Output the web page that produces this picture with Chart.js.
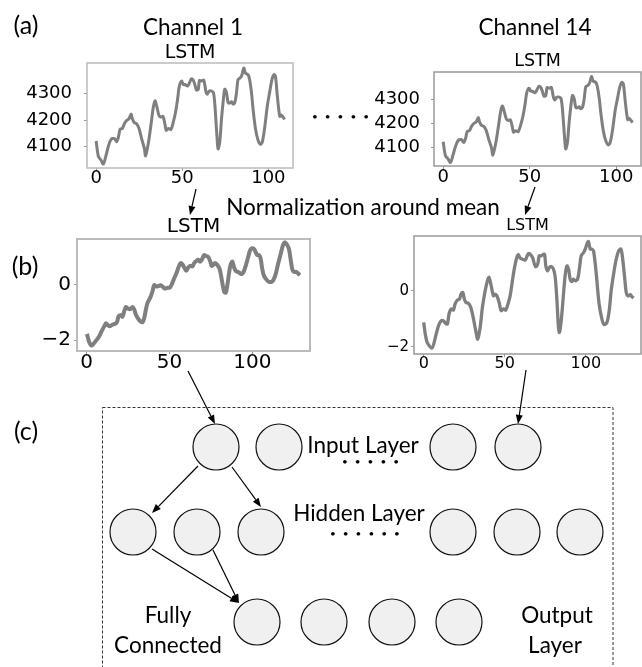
<!DOCTYPE html>
<html>
<head>
<meta charset="utf-8">
<script src="https://cdn.jsdelivr.net/npm/chart.js@4/dist/chart.umd.min.js"></script>
<style>
  html, body { margin: 0; padding: 0; background: #fff; }
  body { width: 642px; height: 667px; position: relative; overflow: hidden; }
  canvas { position: absolute; }
  .lbl { position: absolute; font-family: Lato, sans-serif; font-size: 22.5px; color: #000; white-space: nowrap; line-height: 1; transform: translate(-50%, -50%); }
  .tag { font-size: 25px; }
  .dots { position: absolute; font-family: Lato, sans-serif; font-size: 10px; letter-spacing: 7px; line-height: 1; transform: translateY(-50%); }
</style>
</head>
<body>
<canvas id="rawLeft" width="296" height="148" style="left:0;top:42px"></canvas>
<canvas id="rawRight" width="272" height="136" style="left:370px;top:52px"></canvas>
<canvas id="normLeft" width="312" height="158" style="left:0;top:217px"></canvas>
<canvas id="normRight" width="262" height="157" style="left:380px;top:218px"></canvas>
<canvas id="network" width="642" height="667" style="left:0;top:0"></canvas>

<div class="lbl tag" style="left:26px;top:24px">(a)</div>
<div class="lbl" style="left:193px;top:27px">Channel 1</div>
<div class="lbl" style="left:535px;top:27px">Channel 14</div>
<div class="dots" style="left:312px;top:116px">•••••</div>
<div class="lbl" style="left:363px;top:207px">Normalization around mean</div>
<div class="lbl tag" style="left:25px;top:265px">(b)</div>
<div class="lbl tag" style="left:26px;top:430px">(c)</div>
<div class="lbl" style="left:363px;top:445px">Input Layer</div>
<div class="dots" style="left:342px;top:461px">•••••</div>
<div class="lbl" style="left:359px;top:513px">Hidden Layer</div>
<div class="dots" style="left:330px;top:533px">••••••</div>
<div class="lbl" style="left:168px;top:615px">Fully</div>
<div class="lbl" style="left:168px;top:645px">Connected</div>
<div class="lbl" style="left:557px;top:615px">Output</div>
<div class="lbl" style="left:555px;top:645px">Layer</div>

<script>
// raw LSTM input, channel 1 / channel 14 (same trace)
const rawSteps = [0, 1.3, 2.7, 4.2, 5.6, 7.2, 8.7, 10.6, 11.9, 13.0, 13.9, 15.2, 16.4, 17.7, 19.1, 20.3, 21.0, 22.2, 23.5, 24.9,
  26.4, 28.0, 28.7, 30.3, 31.8, 33.2, 34.2, 35.1, 36.5, 37.6, 38.8, 39.9, 40.7, 41.9, 43.4, 44.8, 46.1, 47.3, 48.3, 49.6,
  50.6, 51.5, 53.1, 54.4, 55.3, 56.4, 57.3, 58.3, 59.3, 60.0, 61.2, 62.5, 63.7, 64.5, 65.6, 67.0, 68.1, 68.9, 70.1, 70.8,
  71.8, 72.8, 73.9, 74.7, 75.7, 76.6, 77.6, 78.6, 79.5, 80.5, 81.5, 82.4, 83.7, 84.7, 85.7, 86.7, 88.2, 89.1, 90.2, 91.1,
  92.5, 94.0, 95.4, 96.5, 97.8, 99.4, 100.7, 102.1, 103.2, 104.1, 105.2, 106.6, 107.5, 108.5, 109.5];
const rawValues = [4122, 4064, 4051, 4035, 4064, 4104, 4128, 4131, 4119, 4138, 4166, 4169, 4187, 4199, 4206, 4224, 4206, 4191, 4187, 4169,
  4131, 4094, 4066, 4113, 4181, 4249, 4273, 4255, 4218, 4212, 4215, 4187, 4162, 4169, 4165, 4193, 4230, 4280, 4329, 4348,
  4335, 4335, 4329, 4344, 4356, 4351, 4335, 4314, 4317, 4350, 4348, 4351, 4310, 4298, 4310, 4310, 4304, 4261, 4144, 4092,
  4119, 4206, 4280, 4317, 4304, 4267, 4265, 4270, 4261, 4267, 4304, 4354, 4360, 4372, 4397, 4378, 4372, 4354, 4304, 4243,
  4169, 4125, 4109, 4119, 4169, 4255, 4304, 4354, 4372, 4366, 4292, 4215, 4220, 4212, 4203];

// normalized, channel 1
const normLeftSteps = [0.2, 1.6, 3.0, 4.6, 6.2, 7.7, 9.1, 10.7, 11.7, 13.1, 14.3, 15.7, 17.1, 18.3, 19.3, 20.7, 21.7, 22.7, 23.7, 25.1,
  26.3, 27.7, 28.7, 29.7, 31.1, 32.3, 33.8, 34.8, 35.8, 36.8, 38.4, 39.8, 40.8, 42.2, 43.4, 44.8, 45.8, 47.2, 48.8, 50.2,
  51.4, 52.8, 54.4, 55.8, 56.8, 57.8, 58.9, 60.1, 61.3, 62.5, 63.9, 64.9, 66.3, 67.3, 68.5, 69.9, 70.9, 71.9, 73.3, 74.5,
  75.5, 76.5, 77.5, 78.9, 80.3, 81.5, 83.0, 84.0, 85.0, 86.0, 87.0, 88.0, 89.0, 90.0, 91.4, 92.6, 93.6, 94.6, 96.0, 97.4,
  98.6, 99.6, 101.0, 102.0, 103.0, 104.0, 105.0, 106.0, 107.0, 108.7, 110.1, 111.5, 112.7, 114.1, 115.5, 117.1, 118.5, 119.5, 120.7, 122.1,
  123.1, 124.1, 125.1, 126.5, 127.5, 128.7];
const normLeftValues = [-1.77, -2.07, -2.19, -2.10, -1.98, -1.85, -1.67, -1.49, -1.39, -1.47, -1.49, -1.43, -1.41, -1.35, -1.13, -1.10, -1.15, -0.95, -0.80, -0.86,
  -0.88, -0.80, -0.88, -1.07, -1.22, -1.31, -1.35, -1.19, -0.88, -0.64, -0.46, -0.22, -0.01, -0.06, -0.04, -0.01, -0.06, -0.13, -0.10, -0.10,
  0.02, 0.23, 0.45, 0.69, 0.79, 0.75, 0.63, 0.51, 0.63, 0.69, 0.67, 0.79, 0.87, 0.91, 0.84, 0.96, 1.08, 1.05, 1.02, 0.87,
  0.69, 0.73, 0.79, 0.72, 0.57, 0.21, -0.25, -0.28, 0.02, 0.45, 0.75, 0.84, 0.63, 0.51, 0.47, 0.42, 0.39, 0.45, 0.69, 0.99,
  1.24, 1.32, 1.30, 1.18, 1.08, 1.08, 0.96, 0.57, 0.33, 0.18, 0.11, 0.11, 0.18, 0.39, 0.75, 1.12, 1.44, 1.54, 1.48, 1.30,
  0.93, 0.57, 0.47, 0.47, 0.42, 0.35];

// normalized, channel 14
const normRightSteps = [0, 0.8, 1.9, 3.3, 4.9, 6.2, 7.4, 9.1, 10.5, 12.1, 13.6, 14.6, 15.6, 16.9, 18.3, 19.3, 20.8, 22.0, 23.0, 24.1,
  25.1, 26.1, 27.6, 29.0, 30.7, 32.1, 33.3, 34.8, 36.2, 37.9, 39.3, 40.3, 41.6, 43.0, 44.0, 45.1, 46.5, 47.7, 49.2, 50.6,
  51.9, 53.3, 54.7, 56.0, 57.4, 58.4, 59.5, 60.9, 62.6, 63.6, 64.6, 65.6, 67.1, 68.3, 69.1, 70.4, 71.2, 72.4, 73.5, 74.5,
  75.3, 76.3, 77.4, 78.6, 80.0, 81.1, 82.1, 83.1, 83.7, 84.8, 86.2, 87.2, 88.3, 89.3, 90.3, 91.4, 92.4, 93.4, 94.9, 96.1,
  97.1, 98.6, 99.6, 100.6, 101.6, 102.7, 103.7, 104.7, 105.8, 106.8, 108.2, 109.9, 111.3, 113.0, 114.4, 115.6, 117.1, 118.5, 120.2, 121.6,
  122.6, 123.9, 124.9, 125.9, 127.4, 128.4, 129.4];
const normRightValues = [-1.13, -1.49, -1.81, -1.96, -2.05, -1.90, -1.61, -1.25, -1.09, -1.07, -1.17, -1.19, -0.83, -0.65, -0.69, -0.48, -0.33, -0.30, -0.12, -0.06,
  -0.30, -0.42, -0.45, -0.59, -1.01, -1.43, -1.73, -1.31, -0.59, 0.00, 0.36, 0.48, 0.18, -0.18, -0.12, -0.18, -0.42, -0.71, -0.65, -0.69,
  -0.48, -0.18, 0.36, 0.83, 1.19, 1.29, 1.17, 1.13, 1.10, 1.22, 1.33, 1.31, 1.19, 0.95, 0.86, 0.98, 1.25, 1.25, 1.29, 1.31,
  0.89, 0.72, 0.83, 0.87, 0.78, 0.48, -0.30, -1.31, -1.49, -1.07, -0.12, 0.54, 0.89, 0.78, 0.42, 0.33, 0.42, 0.36, 0.42, 0.83,
  1.25, 1.37, 1.49, 1.67, 1.76, 1.49, 1.49, 1.43, 0.95, 0.36, -0.48, -1.01, -1.21, -1.13, -0.71, 0.00, 0.60, 1.07, 1.43, 1.49,
  1.19, 0.48, -0.06, -0.18, -0.14, -0.21, -0.26];

const stepTicks = [0, 50, 100];
const rawTicks = [4100, 4200, 4300];
const normTicks = [-2, 0];

// network sketch, in page units
const inputNodesX = [216, 279, 453, 518];
const hiddenNodesX = [133, 197, 261, 453, 517, 580];
const outputNodesX = [257, 324, 392, 459];
const layerY = [447, 532, 622];
const arrows = [
  [196, 189, 190, 215], [535, 187, 525, 215],
  [188, 371, 215, 424], [526, 370, 518, 424],
  [198, 466, 152, 513], [232, 467, 261, 507],
  [152, 549, 239, 603], [213, 550, 239, 603],
];
const panelBox = [102, 407, 613, 690];

const frame = {
  id: 'frame',
  afterDatasetsDraw(chart, args, opts) {
    const a = chart.chartArea;
    const ctx = chart.ctx;
    ctx.save();
    ctx.strokeStyle = opts.color;
    ctx.lineWidth = opts.width;
    ctx.strokeRect(a.left, a.top, a.right - a.left, a.bottom - a.top);
    ctx.restore();
  },
};

const fmt = (v) => (v < 0 ? '\u2212' + Math.abs(v) : String(v));

function lineChart(id, steps, values, yTicks, o) {
  return new Chart(document.getElementById(id), {
    type: 'line',
    data: {
      datasets: [{
        data: steps.map((s, i) => ({ x: s, y: values[i] })),
        borderColor: '#7f7f7f',
        borderWidth: o.lineWidth,
        pointRadius: 0,
        tension: 0.3,
        fill: false,
      }],
    },
    options: {
      responsive: false,
      animation: false,
      events: [],
      layout: { autoPadding: false, padding: { left: 0, right: o.padRight, top: 0, bottom: 0 } },
      plugins: {
        legend: { display: false },
        tooltip: { enabled: false },
        title: {
          display: true,
          text: 'LSTM',
          fullSize: false,
          color: '#000',
          font: { family: 'DejaVu Sans', size: o.titleSize, weight: 'normal', lineHeight: 1 },
          padding: { top: 0, bottom: o.titleGap },
        },
        frame: { color: o.frameColor, width: o.frameWidth },
      },
      scales: {
        x: {
          type: 'linear',
          min: o.xMin,
          max: o.xMax,
          afterFit: (s) => { s.height = o.xAxisHeight; },
          afterBuildTicks: (s) => { s.ticks = stepTicks.map((v) => ({ value: v })); },
          grid: { drawOnChartArea: false, tickLength: 3, tickColor: '#999' },
          border: { display: false },
          ticks: { padding: o.xPad, maxRotation: 0, color: '#000', callback: fmt,
            font: { family: 'DejaVu Sans', size: o.xFont, lineHeight: 1 } },
        },
        y: {
          min: o.yMin,
          max: o.yMax,
          afterFit: (s) => { s.width = o.yAxisWidth; },
          afterBuildTicks: (s) => { s.ticks = yTicks.map((v) => ({ value: v })); },
          grid: { drawOnChartArea: false, tickLength: 3, tickColor: '#999' },
          border: { display: false },
          ticks: { padding: o.yPad, color: '#000', callback: fmt,
            font: { family: 'DejaVu Sans', size: o.yFont, lineHeight: 1 } },
        },
      },
    },
    plugins: [frame],
  });
}

lineChart('rawLeft', rawSteps, rawValues, rawTicks, {
  lineWidth: 3, padRight: 3, titleSize: 19, titleGap: 0, frameColor: '#bbb', frameWidth: 1.5,
  xMin: -5.3, xMax: 114.3, yMin: 4020, yMax: 4416, xAxisHeight: 22, yAxisWidth: 87,
  xPad: -2, yPad: 12, xFont: 18, yFont: 18,
});
lineChart('rawRight', rawSteps, rawValues, rawTicks, {
  lineWidth: 3, padRight: 1, titleSize: 17.5, titleGap: 1.5, frameColor: '#999', frameWidth: 1.5,
  xMin: -5.3, xMax: 114.3, yMin: 4020, yMax: 4416, xAxisHeight: 22, yAxisWidth: 64,
  xPad: -1, yPad: 11, xFont: 18, yFont: 18,
});
lineChart('normLeft', normLeftSteps, normLeftValues, normTicks, {
  lineWidth: 4, padRight: 2, titleSize: 20, titleGap: 2, frameColor: '#bbb', frameWidth: 2,
  xMin: -5.8, xMax: 134.8, yMin: -2.39, yMax: 1.66, xAxisHeight: 24, yAxisWidth: 77,
  xPad: -1, yPad: 3, xFont: 20, yFont: 20,
});
lineChart('normRight', normRightSteps, normRightValues, normTicks, {
  lineWidth: 3.3, padRight: 1, titleSize: 16, titleGap: 2, frameColor: '#999', frameWidth: 1.5,
  xMin: -6.0, xMax: 134.0, yMin: -2.26, yMax: 1.96, xAxisHeight: 21, yAxisWidth: 34,
  xPad: -1, yPad: 2, xFont: 16, yFont: 15,
});

const schematic = {
  id: 'schematic',
  beforeDatasetsDraw(chart) {
    const { ctx, scales: { x, y } } = chart;
    const [x0, y0, x1, y1] = panelBox;
    ctx.save();
    ctx.setLineDash([3, 2]);
    ctx.strokeStyle = '#333';
    ctx.lineWidth = 1;
    const left = Math.round(x.getPixelForValue(x0)) + 0.5;
    const top = Math.round(y.getPixelForValue(y0)) + 0.5;
    ctx.strokeRect(left, top, x.getPixelForValue(x1) - left, y.getPixelForValue(y1) - top);
    ctx.restore();
  },
  afterDatasetsDraw(chart) {
    const { ctx, scales: { x, y } } = chart;
    ctx.save();
    ctx.strokeStyle = '#000';
    ctx.fillStyle = '#000';
    ctx.lineWidth = 1.2;
    arrows.forEach(([ax, ay, bx, by]) => {
      const sx = x.getPixelForValue(ax);
      const sy = y.getPixelForValue(ay);
      const ex = x.getPixelForValue(bx);
      const ey = y.getPixelForValue(by);
      const ang = Math.atan2(ey - sy, ex - sx);
      const head = 9;
      const half = 3.5;
      const bxp = ex - head * Math.cos(ang);
      const byp = ey - head * Math.sin(ang);
      ctx.beginPath();
      ctx.moveTo(sx, sy);
      ctx.lineTo(bxp, byp);
      ctx.stroke();
      ctx.beginPath();
      ctx.moveTo(ex, ey);
      ctx.lineTo(bxp + half * Math.sin(ang), byp - half * Math.cos(ang));
      ctx.lineTo(bxp - half * Math.sin(ang), byp + half * Math.cos(ang));
      ctx.closePath();
      ctx.fill();
    });
    ctx.restore();
  },
};

const nodes = [
  ...inputNodesX.map((v) => ({ x: v, y: layerY[0] })),
  ...hiddenNodesX.map((v) => ({ x: v, y: layerY[1] })),
  ...outputNodesX.map((v) => ({ x: v, y: layerY[2] })),
];

new Chart(document.getElementById('network'), {
  type: 'scatter',
  data: {
    datasets: [{
      data: nodes,
      pointRadius: 23,
      pointBackgroundColor: '#f0f0f0',
      pointBorderColor: '#111',
      pointBorderWidth: 1.2,
      clip: false,
    }],
  },
  options: {
    responsive: false,
    animation: false,
    events: [],
    layout: { autoPadding: false, padding: 0 },
    plugins: { legend: { display: false }, tooltip: { enabled: false } },
    scales: {
      x: { type: 'linear', min: 0, max: 642, display: false },
      y: { type: 'linear', min: 0, max: 667, reverse: true, display: false },
    },
  },
  plugins: [schematic],
});
</script>
</body>
</html>
